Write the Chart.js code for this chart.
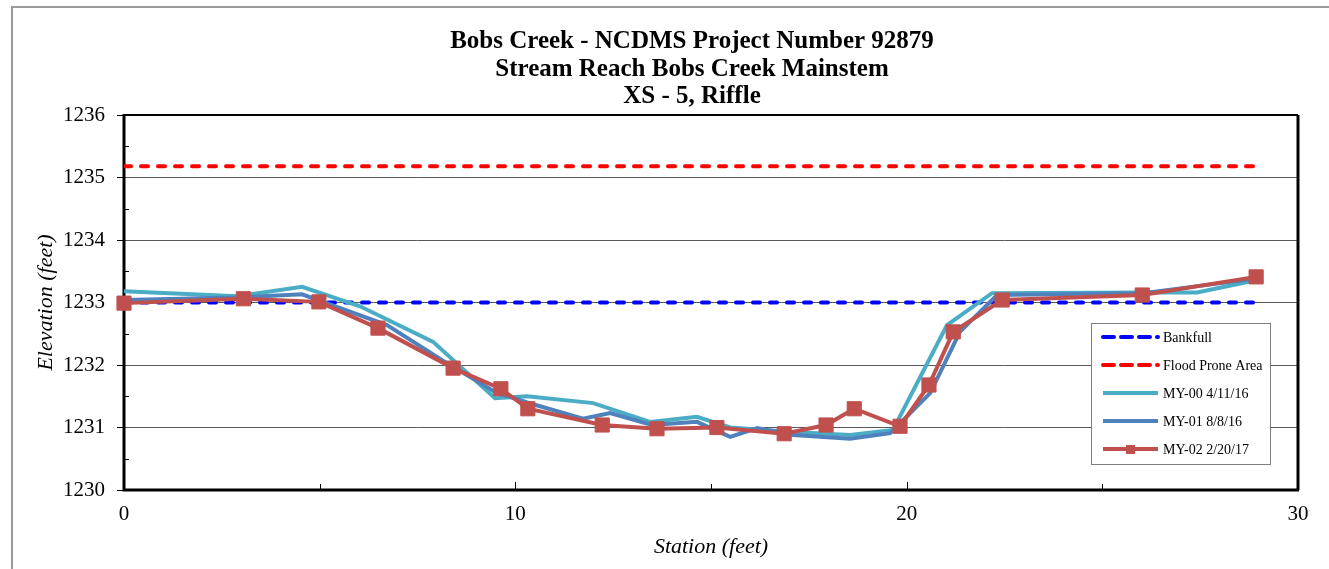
<!DOCTYPE html>
<html>
<head>
<meta charset="utf-8">
<script src="https://cdn.jsdelivr.net/npm/chart.js@4/dist/chart.umd.min.js"></script>
<style>
  html, body { margin: 0; padding: 0; background: #fff; }
</style>
</head>
<body>
<canvas id="xsChart" width="1329" height="569"></canvas>
<script>
const titleLines = ["Bobs Creek - NCDMS Project Number 92879", "Stream Reach Bobs Creek Mainstem", "XS - 5, Riffle"];
const seriesNames = ["Bankfull", "Flood Prone Area", "MY-00 4/11/16", "MY-01 8/8/16", "MY-02 2/20/17"];

// station (ft) / elevation (ft)
const bankfullX = [0, 28.93];
const bankfullY = [1233.0, 1233.0];
const floodX = [0, 28.93];
const floodY = [1235.18, 1235.18];

const my00X = [0, 2.9, 4.55, 6.03, 7.9, 9.48, 10.3, 11.99, 13.44, 14.64, 15.49, 17.1, 18.55, 19.65, 21.03, 22.18, 25.96, 27.42, 29.11];
const my00Y = [1233.18, 1233.1, 1233.25, 1232.94, 1232.37, 1231.47, 1231.5, 1231.39, 1231.09, 1231.17, 1231.0, 1230.93, 1230.88, 1230.96, 1232.64, 1233.15, 1233.16, 1233.16, 1233.38];

const my01X = [0, 2.9, 4.55, 6.72, 8.25, 9.48, 10.3, 11.73, 12.42, 13.49, 14.64, 15.49, 16.18, 17.1, 18.55, 19.58, 20.6, 21.36, 22.31, 26.04, 29.03];
const my01Y = [1233.04, 1233.08, 1233.13, 1232.64, 1232.03, 1231.57, 1231.4, 1231.14, 1231.23, 1231.04, 1231.09, 1230.85, 1230.99, 1230.88, 1230.82, 1230.91, 1231.55, 1232.53, 1233.12, 1233.15, 1233.39];

const my02X = [0, 3.05, 4.98, 6.49, 8.41, 9.63, 10.32, 12.22, 13.62, 15.15, 16.87, 17.94, 18.66, 19.83, 20.57, 21.19, 22.44, 26.02, 28.93];
const my02Y = [1232.99, 1233.06, 1233.01, 1232.59, 1231.95, 1231.62, 1231.3, 1231.04, 1230.98, 1231.0, 1230.9, 1231.04, 1231.3, 1231.02, 1231.68, 1232.53, 1233.04, 1233.12, 1233.41];

const xTickStep = 10;
const yTickStep = 1;

const serif = "'Liberation Serif', 'Times New Roman', serif";

function pts(xs, ys) {
  return xs.map((x, i) => ({ x: x, y: ys[i] }));
}

const decor = {
  id: "decor",
  beforeDatasetsDraw(chart) {
    const { ctx, chartArea: a, scales } = chart;
    const x = scales.x, y = scales.y;
    ctx.save();
    ctx.strokeStyle = "#000";
    ctx.lineWidth = 1;
    ctx.beginPath();
    // minor ticks on y, inside
    for (let v = y.min + yTickStep / 2; v < y.max; v += yTickStep) {
      const py = Math.round(y.getPixelForValue(v)) + 0.5;
      ctx.moveTo(a.left, py);
      ctx.lineTo(a.left + 5, py);
    }
    // ticks on x, inside
    for (let v = x.min + xTickStep / 2; v < x.max; v += xTickStep / 2) {
      const px = Math.round(x.getPixelForValue(v)) + 0.5;
      const len = (v % xTickStep === 0) ? 8 : 6;
      ctx.moveTo(px, a.bottom);
      ctx.lineTo(px, a.bottom - len);
    }
    ctx.stroke();

    // plot border
    ctx.lineWidth = 2;
    ctx.beginPath();
    ctx.moveTo(a.left, a.top);
    ctx.lineTo(a.right, a.top);
    ctx.stroke();
    ctx.lineWidth = 3;
    ctx.beginPath();
    ctx.moveTo(a.right, a.top);
    ctx.lineTo(a.right, a.bottom);
    ctx.moveTo(a.left, a.top - 1);
    ctx.lineTo(a.left, a.bottom);
    ctx.lineTo(a.right + 1, a.bottom);
    ctx.stroke();
    ctx.restore();
  },
  afterDraw(chart) {
    const ctx = chart.ctx;
    ctx.save();

    // outer frame
    ctx.strokeStyle = "#9a9a9a";
    ctx.lineWidth = 2;
    ctx.beginPath();
    ctx.moveTo(12, chart.height);
    ctx.lineTo(12, 7);
    ctx.lineTo(chart.width, 7);
    ctx.stroke();

    // title
    ctx.fillStyle = "#000";
    ctx.font = "bold 25px " + serif;
    ctx.textAlign = "center";
    ctx.textBaseline = "middle";
    titleLines.forEach((t, i) => ctx.fillText(t, 692, 42 + i * 27.5));

    // legend
    const L = 1091, T = 323, W = 179, H = 141;
    ctx.fillStyle = "#fff";
    ctx.fillRect(L, T, W, H);
    ctx.strokeStyle = "#7f7f7f";
    ctx.lineWidth = 1;
    ctx.strokeRect(L + 0.5, T + 0.5, W, H);

    ctx.font = "14px " + serif;
    ctx.textAlign = "left";
    chart.data.datasets.forEach((ds, i) => {
      const ry = T + 14 + i * 28;
      ctx.strokeStyle = ds.borderColor;
      ctx.lineWidth = 4;
      if (ds.borderDash) {
        ctx.setLineDash([11, 7]);
        ctx.lineCap = "round";
      } else {
        ctx.setLineDash([]);
        ctx.lineCap = "butt";
      }
      ctx.beginPath();
      ctx.moveTo(L + 12, ry);
      ctx.lineTo(L + 67, ry);
      ctx.stroke();
      ctx.setLineDash([]);
      if (ds.pointRadius > 0) {
        ctx.fillStyle = ds.pointBackgroundColor;
        ctx.fillRect(L + 35, ry - 4, 9, 9);
      }
      ctx.fillStyle = "#000";
      ctx.fillText(ds.label, L + 72, ry + 1);
    });
    ctx.restore();
  }
};

const ctx = document.getElementById("xsChart").getContext("2d");

new Chart(ctx, {
  type: "line",
  data: {
    datasets: [
      {
        label: seriesNames[0],
        data: pts(bankfullX, bankfullY),
        borderColor: "#0000FF",
        borderWidth: 4,
        borderDash: [7, 10],
        borderCapStyle: "round",
        pointRadius: 0,
        order: 3,
      },
      {
        label: seriesNames[1],
        data: pts(floodX, floodY),
        borderColor: "#FF0000",
        borderWidth: 4,
        borderDash: [7, 10],
        borderCapStyle: "round",
        pointRadius: 0,
        order: 4,
      },
      {
        label: seriesNames[2],
        data: pts(my00X, my00Y),
        borderColor: "#4BACC6",
        borderWidth: 4,
        pointRadius: 0,
        order: 2,
      },
      {
        label: seriesNames[3],
        data: pts(my01X, my01Y),
        borderColor: "#4F81BD",
        borderWidth: 4,
        pointRadius: 0,
        order: 1,
      },
      {
        label: seriesNames[4],
        data: pts(my02X, my02Y),
        borderColor: "#C0504D",
        borderWidth: 4,
        pointStyle: "rect",
        pointRadius: 10,
        pointBackgroundColor: "#C0504D",
        pointBorderColor: "#C0504D",
        pointBorderWidth: 1,
        clip: false,
        order: 0,
      },
    ],
  },
  options: {
    responsive: false,
    animation: false,
    events: [],
    layout: { padding: { left: 0, right: 31, top: 115, bottom: 0 } },
    plugins: {
      legend: { display: false },
      title: { display: false },
      tooltip: { enabled: false },
    },
    scales: {
      x: {
        type: "linear",
        min: 0,
        max: 30,
        afterFit: (s) => { s.height = 79; },
        border: { display: false },
        grid: { display: false, drawTicks: false },
        ticks: {
          stepSize: xTickStep,
          padding: 12,
          color: "#000",
          font: { family: serif, size: 21 },
        },
        title: {
          display: true,
          text: "Station (feet)",
          color: "#000",
          font: { family: serif, size: 22, style: "italic" },
          padding: { top: 0, bottom: 9 },
        },
      },
      y: {
        type: "linear",
        min: 1230,
        max: 1236,
        afterFit: (s) => { s.width = 124; },
        border: { display: false },
        grid: { color: "#595959", lineWidth: 1, tickLength: 7, tickColor: "#000" },
        ticks: {
          stepSize: yTickStep,
          padding: 12,
          color: "#000",
          font: { family: serif, size: 21 },
          callback: (v) => String(v),
        },
        title: {
          display: true,
          text: "Elevation (feet)",
          color: "#000",
          font: { family: serif, size: 22, style: "italic" },
          padding: { top: 33, bottom: 0 },
        },
      },
    },
  },
  plugins: [decor],
});
</script>
</body>
</html>
